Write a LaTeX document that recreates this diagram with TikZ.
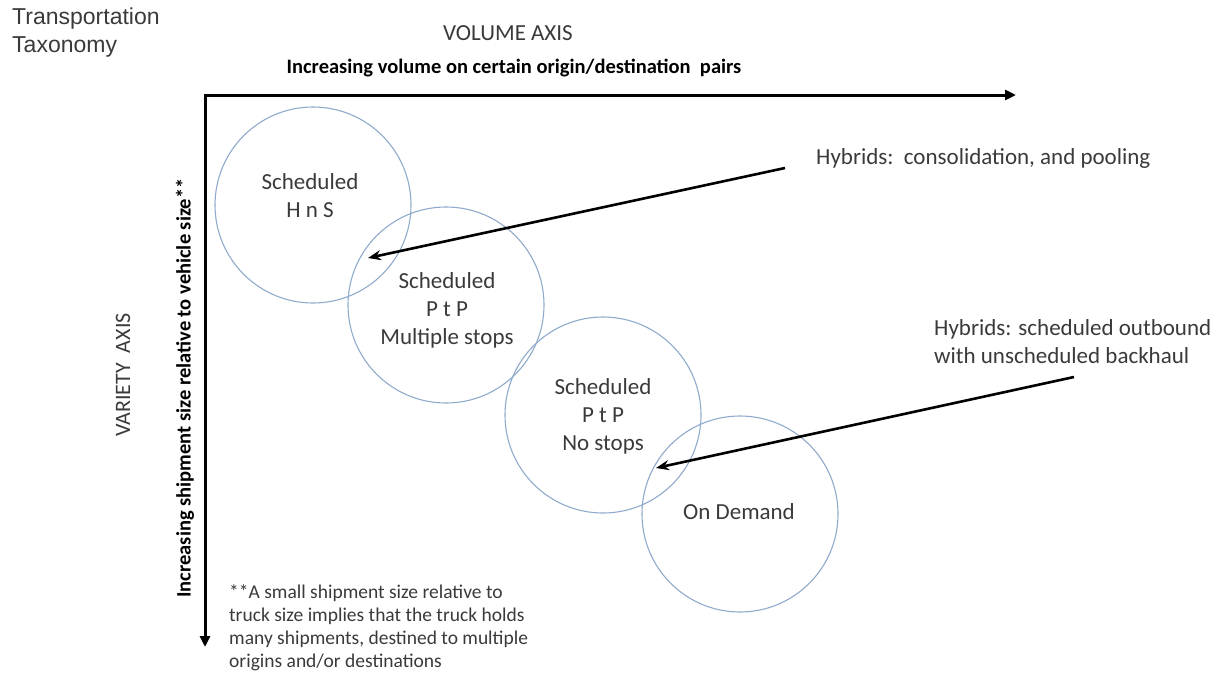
\documentclass[tikz,border=0pt]{standalone}
\usepackage{fontspec}
\setmainfont{Carlito}
\newfontfamily\arialf{Liberation Sans}
\usetikzlibrary{arrows.meta}
\definecolor{txtgray}{HTML}{3A3A3A}
\definecolor{circblue}{HTML}{8FAACB}
\tikzset{
  bubble/.style={circle, draw=circblue, line width=1.1pt, minimum size=196pt, inner sep=0pt},
  bubbletxt/.style={align=center, text=txtgray, font=\fontsize{23}{28}\selectfont},
  plain/.style={text=txtgray, font=\fontsize{23}{28}\selectfont},
  axisbold/.style={text=black, font=\bfseries\fontsize{20.5}{24}\selectfont},
  axis/.style={line width=3pt, line join=miter, -{Triangle[length=11pt,width=10pt]}},
  pointer/.style={line width=2.6pt, -{Stealth[length=13pt,width=10pt]}}
}
\begin{document}
\begin{tikzpicture}[x=1pt,y=-1pt]
\useasboundingbox (0,0) rectangle (1229,675);
% title
\node[anchor=north west, align=left, inner sep=0pt, text=txtgray, font=\arialf\fontsize{23}{28}\selectfont] (title) at (12,8) {Transportation\\Taxonomy};
% axes
\coordinate (origin) at (205,95);
\coordinate (xend) at (1016,95);
\coordinate (yend) at (205,647);
\draw[axis] (origin) -- (xend);
\draw[axis] (origin) -- (yend);
\draw[line width=3pt] (205,96.5) -- (205,93.5);
% axis labels
\node[plain] (vol) at (508,33) {VOLUME AXIS};
\node[axisbold] (volsub) at (514,68) {Increasing volume on certain origin/destination\ \ pairs};
\node[plain, font=\fontsize{22}{28}\selectfont, rotate=90] (var) at (123,375) {VARIETY\ \ AXIS};
\node[axisbold, rotate=90] (varsub) at (185,388) {Increasing shipment size relative to vehicle size**};
% circles
\node[bubble] (c1) at (313,205) {};
\node[bubble] (c2) at (446,305) {};
\node[bubble] (c3) at (603,415) {};
\node[bubble] (c4) at (740,514) {};
\node[bubbletxt] (t1) at (310,196) {Scheduled\\H n S};
\node[bubbletxt] (t2) at (447,310) {Scheduled\\P t P\\Multiple stops};
\node[bubbletxt] (t3) at (603,416) {Scheduled\\P t P\\No stops};
\node[bubbletxt] (t4) at (739,512) {On Demand};
% hybrids
\node[plain, anchor=west, inner sep=0pt] (h1) at (816,158) {Hybrids:\ \ consolidation, and pooling};
\node[plain, anchor=north west, align=left, inner sep=0pt] (h2) at (934,319) {Hybrids:\hspace{0.3em}scheduled outbound\\with unscheduled backhaul};
\coordinate (a1s) at (785,168);
\coordinate (a1e) at (368,258);
\coordinate (a2s) at (1074,377);
\coordinate (a2e) at (656,468);
\draw[pointer] (a1s) -- (a1e);
\draw[pointer] (a2s) -- (a2e);
% footnote
\node[anchor=north west, align=left, inner sep=0pt, text=txtgray, font=\fontsize{19.5}{23}\selectfont] (fn) at (229,584) {**A small shipment size relative to\\truck size implies that the truck holds\\many shipments, destined to multiple\\origins and/or destinations};
\end{tikzpicture}
\end{document}
